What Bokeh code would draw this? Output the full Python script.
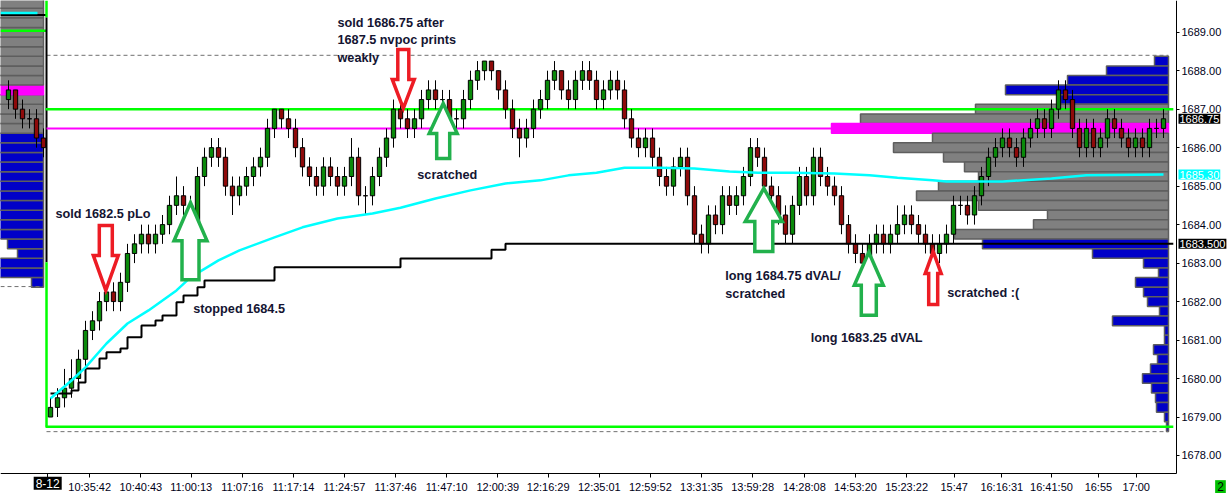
from bokeh.plotting import figure
from bokeh.models import (Range1d, LinearAxis, FixedTicker, NumeralTickFormatter,
                          CustomJSTickFormatter, Label)
from bokeh.embed import file_html
from bokeh.resources import INLINE

# ---------------- data ----------------
first_open = 1679.0
closes = [
    1679.25, 1679.5, 1679.75, 1680.0, 1680.5, 1681.25, 1681.5, 1682.0, 1682.25, 1682.0,
    1682.5, 1683.25, 1683.5, 1683.75, 1683.5, 1683.75, 1684.0, 1684.5, 1684.75, 1684.5,
    1684.0, 1685.25, 1685.75, 1686.0, 1685.75, 1685.0, 1684.75, 1685.0, 1685.25, 1685.5,
    1685.75, 1686.5, 1687.0, 1686.75, 1686.5, 1686.0, 1685.5, 1685.25, 1685.0, 1685.5,
    1685.25, 1685.0, 1685.25, 1685.75, 1684.75, 1684.75, 1685.25, 1685.75, 1686.25, 1687.0,
    1686.75, 1686.5, 1686.75, 1687.25, 1687.5, 1687.25, 1687.25, 1686.75, 1686.75, 1687.25,
    1687.75, 1688.0, 1688.25, 1688.0, 1687.5, 1687.0, 1686.5, 1686.25, 1686.5, 1687.0,
    1687.25, 1687.75, 1688.0, 1687.5, 1687.25, 1687.75, 1688.0, 1687.75, 1687.25, 1687.5,
    1687.75, 1687.5, 1686.75, 1686.25, 1686.0, 1686.25, 1685.75, 1685.25, 1685.0, 1685.5,
    1685.75, 1684.75, 1683.75, 1683.5, 1684.25, 1684.0, 1684.75, 1684.5, 1684.75, 1685.25,
    1686.0, 1685.75, 1685.0, 1684.75, 1684.25, 1683.75, 1684.5, 1685.25, 1684.75, 1685.75,
    1685.25, 1685.0, 1684.75, 1684.0, 1683.5, 1683.25, 1683.0, 1683.5, 1683.75, 1683.5,
    1683.75, 1684.0, 1684.25, 1684.0, 1683.75, 1683.5, 1683.25, 1683.5, 1683.75, 1684.5,
    1684.5, 1684.25, 1684.75, 1685.25, 1685.75, 1686.0, 1686.25, 1686.0, 1685.75, 1686.25,
    1686.5, 1686.75, 1686.5, 1687.0, 1687.5, 1687.25, 1686.5, 1686.0, 1686.5, 1686.0,
    1686.25, 1686.75, 1686.5, 1686.25, 1686.0, 1686.25, 1686.0, 1686.5, 1686.5, 1686.75,
]
highs = [
    1679.5, 1679.75, 1680.25, 1680.5, 1680.75, 1681.5, 1681.75, 1682.25, 1682.5, 1682.5,
    1682.75, 1683.5, 1683.75, 1684.0, 1684.0, 1684.0, 1684.25, 1684.75, 1685.25, 1685.0,
    1684.75, 1685.5, 1686.0, 1686.25, 1686.25, 1686.0, 1685.25, 1685.25, 1685.5, 1685.75,
    1686.0, 1686.75, 1687.0, 1687.0, 1687.0, 1686.75, 1686.25, 1685.75, 1685.5, 1685.75,
    1685.75, 1685.5, 1685.5, 1686.25, 1686.0, 1685.0, 1685.5, 1686.0, 1686.5, 1687.25,
    1687.25, 1687.0, 1687.0, 1687.5, 1687.75, 1687.75, 1687.5, 1687.5, 1687.0, 1687.5,
    1688.0, 1688.25, 1688.25, 1688.25, 1688.0, 1687.75, 1687.25, 1686.75, 1686.75, 1687.25,
    1687.5, 1688.0, 1688.25, 1688.0, 1687.75, 1688.0, 1688.25, 1688.25, 1688.0, 1687.75,
    1688.0, 1688.0, 1687.75, 1687.0, 1686.5, 1686.5, 1686.5, 1686.0, 1685.5, 1685.75,
    1686.0, 1686.0, 1685.0, 1684.0, 1684.5, 1684.5, 1685.0, 1685.0, 1685.0, 1685.5,
    1686.25, 1686.25, 1686.0, 1685.25, 1685.0, 1684.5, 1684.75, 1685.5, 1685.5, 1686.0,
    1686.0, 1685.5, 1685.25, 1685.0, 1684.25, 1683.75, 1683.5, 1683.75, 1684.0, 1684.0,
    1684.0, 1684.5, 1684.5, 1684.5, 1684.25, 1684.0, 1683.75, 1683.75, 1684.0, 1684.75,
    1684.75, 1684.75, 1685.0, 1685.5, 1686.0, 1686.25, 1686.5, 1686.5, 1686.25, 1686.5,
    1686.75, 1687.0, 1687.0, 1687.25, 1687.75, 1687.75, 1687.5, 1686.75, 1686.75, 1686.75,
    1686.5, 1687.0, 1687.0, 1686.75, 1686.5, 1686.5, 1686.5, 1686.75, 1686.75, 1687.0,
]
lows = [
    1679.0, 1679.0, 1679.25, 1679.5, 1679.75, 1680.25, 1681.0, 1681.25, 1681.75, 1681.75,
    1681.75, 1682.25, 1683.0, 1683.25, 1683.25, 1683.25, 1683.5, 1683.75, 1684.25, 1684.25,
    1683.75, 1684.0, 1685.0, 1685.5, 1685.5, 1684.75, 1684.25, 1684.5, 1684.75, 1685.0,
    1685.25, 1685.5, 1686.25, 1686.5, 1686.25, 1685.75, 1685.25, 1685.0, 1684.75, 1684.75,
    1685.0, 1684.75, 1684.75, 1685.0, 1684.5, 1684.25, 1684.5, 1685.0, 1685.5, 1686.0,
    1686.5, 1686.25, 1686.25, 1686.5, 1687.0, 1687.0, 1687.0, 1686.5, 1686.5, 1686.5,
    1687.0, 1687.5, 1687.75, 1687.75, 1687.25, 1686.75, 1686.25, 1685.75, 1686.0, 1686.25,
    1686.75, 1687.0, 1687.5, 1687.25, 1687.0, 1687.0, 1687.5, 1687.5, 1687.0, 1687.0,
    1687.25, 1687.25, 1686.5, 1686.0, 1685.75, 1685.75, 1685.5, 1685.0, 1684.75, 1684.75,
    1685.25, 1684.5, 1683.5, 1683.25, 1683.25, 1683.75, 1683.75, 1684.25, 1684.25, 1684.5,
    1685.0, 1685.5, 1684.75, 1684.5, 1684.0, 1683.5, 1683.5, 1684.25, 1684.5, 1684.5,
    1685.0, 1684.75, 1684.5, 1683.75, 1683.25, 1683.0, 1682.75, 1682.75, 1683.25, 1683.25,
    1683.25, 1683.5, 1683.75, 1683.75, 1683.5, 1683.25, 1683.0, 1683.0, 1683.25, 1683.5,
    1684.25, 1684.0, 1684.0, 1684.5, 1685.0, 1685.5, 1685.75, 1685.75, 1685.5, 1685.5,
    1686.0, 1686.25, 1686.25, 1686.25, 1686.75, 1687.0, 1686.25, 1685.75, 1685.75, 1685.75,
    1685.75, 1686.0, 1686.25, 1686.0, 1685.75, 1685.75, 1685.75, 1685.75, 1686.25, 1686.25,
]

# previous session (visible at the far left)
prev_bar = [-6, -5, -4, -3, -2, -1]
prev_open = [1687.25, 1687.5, 1687.0, 1686.75, 1686.75, 1686.25]
prev_close = [1687.5, 1687.0, 1686.75, 1686.75, 1686.25, 1686.0]
prev_high = [1687.75, 1687.5, 1687.25, 1687.0, 1687.0, 1686.5]
prev_low = [1687.0, 1686.75, 1686.5, 1686.5, 1686.0, 1685.75]

# time axis: bar index at which each time label sits
tick_bar = [-0.4, 5.6, 12.9, 20.1, 27.4, 34.7, 42.0, 49.3, 56.6, 63.9, 71.1, 78.4,
            85.7, 93.0, 100.3, 107.7, 115.0, 122.3, 129.1, 135.9, 143.0, 149.7, 155.1]
tick_labels = ["8-12", "10:35:42", "10:40:43", "11:00:13", "11:07:16", "11:17:14",
               "11:24:57", "11:37:46", "11:47:10", "12:00:39", "12:16:29", "12:35:01",
               "12:59:52", "13:31:35", "13:59:28", "14:28:08", "14:53:20", "15:23:22",
               "15:47", "16:16:31", "16:41:50", "16:55", "17:00"]
price_ticks = [1678, 1679, 1680, 1681, 1682, 1683, 1684, 1685, 1686, 1687, 1688, 1689]

# today's volume profile (right)
rp_price = [1688.25, 1688.0, 1687.75, 1687.5, 1687.25, 1687.0, 1686.75, 1686.5, 1686.25,
            1686.0, 1685.75, 1685.5, 1685.25, 1685.0, 1684.75, 1684.5, 1684.25, 1684.0,
            1683.75, 1683.5, 1683.25, 1683.0, 1682.75, 1682.5, 1682.25, 1682.0, 1681.75,
            1681.5, 1681.25, 1681.0, 1680.75, 1680.5, 1680.25, 1680.0, 1679.75, 1679.5,
            1679.25, 1679.0, 1678.75]
rp_vol = [14, 62, 101, 163, 108, 193, 308, 337, 236,
          275, 225, 204, 190, 230, 252, 190, 121, 135,
          214, 186, 76, 25, 10, 33, 25, 21, 9,
          56, 4, 4, 15, 11, 18, 26, 17, 13,
          12, 4, 2]
rp_val, rp_vah, rp_poc = 1683.75, 1687.0, 1686.5

# previous session's profile (left)
lp_price = [1682.5, 1682.75, 1683.0, 1683.25, 1683.5, 1683.75, 1684.0, 1684.25, 1684.5,
            1684.75, 1685.0, 1685.25, 1685.5, 1685.75, 1686.0, 1686.25, 1686.5, 1686.75,
            1687.0, 1687.25, 1687.5, 1687.75, 1688.0, 1688.25, 1688.5, 1688.75, 1689.0,
            1689.25, 1689.5, 1689.75]
lp_vol = [12, 70, 70, 26, 36, 70, 70, 70, 70,
          70, 70, 70, 70, 70, 70, 70, 70, 70,
          70, 70, 70, 70, 70, 70, 70, 70, 70,
          70, 70, 70]
lp_val, lp_vah, lp_poc = 1686.5, 1689.75, 1687.5

# VWAP (cyan) and developing VAL (black step)
vwap_bar = [0, 3, 5, 8, 11, 14, 18, 20, 24, 27, 32, 36, 41, 46, 50, 55, 60, 65, 70, 74,
            78, 82, 87, 92, 97, 101, 106, 112, 117, 121, 126, 128, 136, 143, 148, 159]
vwap = [1679.48, 1679.95, 1680.29, 1680.91, 1681.43, 1681.77, 1682.29, 1682.63, 1683.07,
        1683.33, 1683.67, 1683.93, 1684.16, 1684.29, 1684.44, 1684.68, 1684.89, 1685.07,
        1685.15, 1685.28, 1685.35, 1685.48, 1685.48, 1685.46, 1685.38, 1685.35, 1685.35,
        1685.33, 1685.28, 1685.22, 1685.15, 1685.12, 1685.12, 1685.2, 1685.28, 1685.3]
val_bar = [0, 3, 4, 5, 7, 8, 10, 11, 13, 15, 16, 18, 19, 21, 22, 32, 50, 63, 65, 160.4]
val_price = [1679.61, 1679.69, 1679.9, 1680.26, 1680.52, 1680.68, 1680.78, 1681.07,
             1681.38, 1681.51, 1681.64, 1681.98, 1682.16, 1682.37, 1682.55, 1682.89,
             1683.12, 1683.35, 1683.5, 1683.5]

green_hi, green_lo = 1687.0, 1678.75
poc_line = 1686.5
dash_hi, dash_lo = 1688.4, 1678.62
prev_dash, prev_green, prev_black, prev_cyan = 1682.39, 1689.04, 1689.45, 1689.5
last_price, last_vwap, last_val = 1686.75, 1685.30, 1683.5
status_count = "2"

notes = [
    ("sold 1682.5 pLo", 0.7, 1684.27),
    ("stopped 1684.5", 20.4, 1681.81),
    ("sold 1686.75 after", 41.0, 1689.25),
    ("1687.5 nvpoc prints", 41.0, 1688.80),
    ("weakly", 41.0, 1688.33),
    ("scratched", 52.4, 1685.28),
    ("long 1684.75 dVAL/", 96.4, 1682.66),
    ("scratched", 96.4, 1682.20),
    ("long 1683.25 dVAL", 108.6, 1681.06),
    ("scratched :(", 128.1, 1682.22),
]
arrow_bar = [7.9, 20.0, 50.4, 56.1, 101.9, 116.9, 126.1]
arrow_price = [1682.29, 1684.57, 1687.02, 1687.15, 1684.94, 1683.28, 1683.30]
arrow_dir = ["down", "up", "down", "up", "up", "up", "up"]
arrow_kind = ["sell", "buy", "sell", "buy", "buy", "buy", "sell"]

# ---------------- styling / geometry ----------------
W, H = 1227, 493
X0, X1 = -7.143, 168.143          # bar index range across the canvas
Y0, Y1 = 1677.0125, 1689.824      # price range across the canvas
AX_X = 160.857                    # price axis position (bar units)
AX_Y = 1677.532                   # time axis position (price units)
PX_X = W / (X1 - X0)
PX_Y = H / (Y1 - Y0)
RED, GREEN = "#ED1C24", "#22B14C"
TXT = "#141432"
# arrow shapes in px: total length, head length, head width, shaft width
arrow_shape = [(65, 35, 25, 13), (77, 38, 33, 17), (59, 29, 22, 11), (55, 30, 28, 13),
               (63, 33, 37, 18), (63, 33, 29, 15), (53, 22, 16, 9)]

p = figure(width=W, height=H, x_range=Range1d(X0, X1), y_range=Range1d(Y0, Y1),
           output_backend="svg", toolbar_location=None,
           x_axis_location=None, y_axis_location=None,
           min_border_left=0, min_border_right=0, min_border_top=0, min_border_bottom=0)
p.outline_line_color = None
p.background_fill_color = "white"
p.border_fill_color = "white"
p.xgrid.grid_line_color = None
p.ygrid.grid_line_color = None
p.extra_x_ranges = {"rvol": Range1d(1168, 1168 - W), "lvol": Range1d(43, 43 - W)}

# profiles
def prof_fill(prices, lo, hi, poc):
    return ["#FF00FF" if pr == poc else ("#808080" if lo <= pr <= hi else "#0000C8")
            for pr in prices]

def prof_line(prices, poc):
    return ["#FF00FF" if pr == poc else "#5E5E5E" for pr in prices]

half = 0.125
p.quad(left=lp_vol, right=[0] * len(lp_vol), top=[v + half for v in lp_price],
       bottom=[v - half for v in lp_price], fill_color=prof_fill(lp_price, lp_val, lp_vah, lp_poc),
       line_color=prof_line(lp_price, lp_poc), line_width=1.5, x_range_name="lvol")
p.quad(left=rp_vol, right=[0] * len(rp_vol), top=[v + half for v in rp_price],
       bottom=[v - half for v in rp_price], fill_color=prof_fill(rp_price, rp_val, rp_vah, rp_poc),
       line_color=prof_line(rp_price, rp_poc), line_width=1.5, x_range_name="rvol")

# reference lines
xs_start = -0.57
p.line([xs_start, 159.7], [dash_hi, dash_hi], line_color="#707070", line_dash="4 3", line_width=1)
p.line([xs_start, 159.7], [dash_lo, dash_lo], line_color="#707070", line_dash="4 3", line_width=1)
p.line([X0, -1.1], [prev_dash, prev_dash], line_color="#707070", line_dash="4 3", line_width=1)
p.line([X0, xs_start], [prev_green, prev_green], line_color="#00FF00", line_width=2.5)
p.line([X0, xs_start], [prev_black, prev_black], line_color="black", line_width=2)
p.line([X0, -1.86], [prev_cyan, prev_cyan], line_color="#00FFFF", line_width=2.5)
p.line([xs_start, xs_start], [1689.38, Y1], line_color="#00FF00", line_width=2.5)
p.line([xs_start, xs_start], [1683.02, 1689.38], line_color="black", line_width=2)
p.line([xs_start, xs_start], [green_lo, 1683.02], line_color="#00FF00", line_width=2.5)
p.line([xs_start, 111.6], [poc_line, poc_line], line_color="#FF00FF", line_width=2)
p.line([-0.71, 160.4], [green_hi, green_hi], line_color="#00FF00", line_width=2.5)
p.line([-0.71, 160.4], [green_lo, green_lo], line_color="#00FF00", line_width=2.5)

# candles
def draw_candles(xb, o, c, h, l):
    top = [max(a, b) for a, b in zip(o, c)]
    bot = [min(a, b) for a, b in zip(o, c)]
    col = ["#0A8A0A" if b > a else ("#8E0A0A" if b < a else "black") for a, b in zip(o, c)]
    p.segment(x0=xb, y0=h, x1=xb, y1=l, line_color="black", line_width=1)
    p.vbar(x=xb, width=0.62, top=top, bottom=bot, fill_color=col,
           line_color="black", line_width=1)

bars = list(range(len(closes)))
opens = [first_open] + closes[:-1]
draw_candles(prev_bar, prev_open, prev_close, prev_high, prev_low)
draw_candles(bars, opens, closes, highs, lows)

p.step(val_bar, val_price, mode="after", line_color="black", line_width=2)
p.line(vwap_bar, vwap, line_color="#00FFFF", line_width=2.5)

# trade arrows
axs, ays, acol = [], [], []
for xb, yp, d, k, (L, Hh, HW, SW) in zip(arrow_bar, arrow_price, arrow_dir, arrow_kind, arrow_shape):
    s = 1 if d == "down" else -1
    pts = [(0, 0), (-HW / 2, Hh), (-SW / 2, Hh), (-SW / 2, L), (SW / 2, L), (SW / 2, Hh), (HW / 2, Hh)]
    axs.append([xb + a / PX_X for a, b in pts])
    ays.append([yp + s * b / PX_Y for a, b in pts])
    acol.append(RED if k == "sell" else GREEN)
p.patches(axs, ays, fill_color="white", line_color=acol, line_width=3.5, line_join="miter")

for txt, xb, yp in notes:
    p.add_layout(Label(x=xb, y=yp, text=txt, text_font="Liberation Sans",
                       text_font_size="12.7px", text_font_style="bold", text_color=TXT,
                       text_align="left", text_baseline="middle"))

# axes drawn at fixed positions inside the canvas
yaxis = LinearAxis(ticker=FixedTicker(ticks=price_ticks),
                   formatter=NumeralTickFormatter(format="0.00"),
                   fixed_location=AX_X, bounds=(AX_Y, Y1),
                   major_tick_in=0, major_tick_out=3, minor_tick_line_color=None,
                   major_label_standoff=2, axis_line_color="black",
                   major_tick_line_color="black", major_label_text_font="Liberation Sans",
                   major_label_text_font_size="11px", major_label_text_color="#000018")
p.add_layout(yaxis, "right")

fmt = CustomJSTickFormatter(args=dict(pos=tick_bar, lab=tick_labels), code="""
let k = -1;
for (let i = 0; i < pos.length; i++) { if (Math.abs(pos[i] - tick) < 1e-6) { k = i; } }
if (k <= 0) { return ""; }
return lab[k];
""")
xaxis = LinearAxis(ticker=FixedTicker(ticks=tick_bar), formatter=fmt,
                   fixed_location=AX_Y, bounds=(X0, AX_X),
                   major_tick_in=0, major_tick_out=4, minor_tick_line_color=None,
                   major_label_standoff=3, axis_line_color="black",
                   major_tick_line_color="black", major_label_text_font="Liberation Sans",
                   major_label_text_font_size="11px", major_label_text_color="#000018")
p.add_layout(xaxis, "below")

# session date box on the time axis
p.add_layout(Label(x=tick_bar[0], y=1677.28, text=tick_labels[0],
                   text_font="Liberation Sans", text_font_size="12px", text_color="white",
                   text_align="center", text_baseline="middle",
                   background_fill_color="black", padding=2))

# price value boxes on the price axis
xlab = AX_X + 2 / PX_X
for val, txt, bg in [(last_price, "%.2f" % last_price, "black"),
                     (last_vwap, "%.2f" % last_vwap, "#00FFFF"),
                     (last_val, "%.3f" % last_val, "black")]:
    p.add_layout(Label(x=xlab, y=val, text=txt, text_font="Liberation Sans",
                       text_font_size="11px", text_color="white", text_align="left",
                       text_baseline="middle", background_fill_color=bg, padding=1))

# connection status box (bottom right corner)
p.add_layout(Label(x=167.14, y=1677.19, text=status_count, text_font="Liberation Sans",
                   text_font_size="12px", text_color="black", text_align="center",
                   text_baseline="middle", background_fill_color="#00C000", padding=2))

open("out.html", "w").write(file_html(p, INLINE))
